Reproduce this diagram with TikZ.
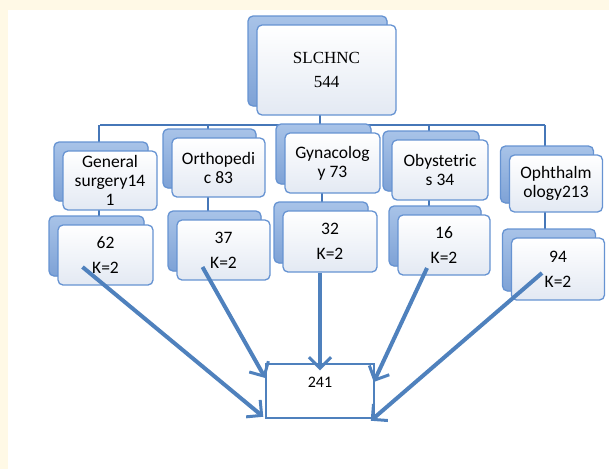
\documentclass[tikz,border=0pt]{standalone}
\usepackage{fontspec}
\setmainfont{Carlito}
\newfontfamily\titlefont{Liberation Serif}
\usepackage{tikz}
\usetikzlibrary{arrows.meta, shadows, backgrounds}
\definecolor{boxline}{HTML}{6693D2}
\definecolor{shadowtop}{HTML}{A8C3E8}
\definecolor{shadowbot}{HTML}{7EA2D6}
\definecolor{facebot}{HTML}{E3E9F3}
\definecolor{linkblue}{HTML}{4677B8}
\definecolor{arrowblue}{HTML}{4F81BD}
\definecolor{pagetint}{HTML}{FFF9E6}
\tikzset{
    block_dept/.style={rectangle, draw=boxline, line width=1.3pt, rounded corners=5pt, top color=white, bottom color=facebot, minimum width=94pt, minimum height=59pt, inner sep=2pt, align=center, font=\fontsize{17.5}{19}\selectfont,
        copy shadow={shadow xshift=-9pt, shadow yshift=9pt, draw=boxline, line width=1.3pt, top color=shadowtop, bottom color=shadowbot}},
    block_count/.style={block_dept, minimum height=60pt, font=\fontsize{17.5}{25}\selectfont},
    block_top/.style={block_dept, minimum width=139pt, minimum height=90pt, font=\titlefont\fontsize{17}{24}\selectfont},
    block_sum/.style={rectangle, draw=arrowblue, line width=1.5pt, fill=white, minimum width=108pt, minimum height=54pt, text depth=18pt, font=\fontsize{16}{19}\selectfont},
    link/.style={draw=linkblue, line width=2pt},
    arrow/.style={-{Straight Barb[length=11pt, width=22pt, line width=3pt]}, draw=arrowblue, line width=4pt}
}

\begin{document}
\begin{tikzpicture}[x=1pt, y=-1pt]
            \useasboundingbox (0,0) rectangle (609,469);

            % Top of the tree
            \node (slchnc) [block_top] at (326.5,70) {SLCHNC\\544};

            % Departments
            \node (gen)   [block_dept] at (110,180.5) {General\\surgery14\\1};
            \node (ortho) [block_dept, minimum width=93pt] at (218.5,167.5) {Orthopedi\\c 83};
            \node (gyn)   [block_dept, minimum width=95pt, minimum height=60pt] at (332.5,163) {Gynacolog\\y 73};
            \node (oby)   [block_dept, minimum width=96pt, minimum height=60pt] at (440,170) {Obystetric\\s 34};
            \node (oph)   [block_dept, minimum width=93pt, minimum height=57pt] at (556,183.5) {Ophthalm\\ology213};

            % Sample sizes
            \node (n62) [block_count, minimum width=95pt] at (105.5,255) {62\\K=2};
            \node (n37) [block_count, minimum width=93pt] at (223.5,250) {37\\K=2};
            \node (n32) [block_count, minimum height=61pt] at (330,241.5) {32\\K=2};
            \node (n16) [block_count, minimum width=92pt] at (444,245) {16\\K=2};
            \node (n94) [block_count, minimum width=93pt, minimum height=62pt] at (558,269) {94\\K=2};

            \node (total) [block_sum] at (320,391) {241};

            \coordinate (bus) at (0,125);

            \begin{scope}[on background layer]
                \fill[pagetint] (0,0) rectangle (609,10);
                \fill[pagetint] (0,0) rectangle (8,469);
                % tree lines
                \draw[link] ([xshift=-7pt]slchnc.center) -- ([xshift=-7pt]slchnc.center |- bus);
                \draw[link] ([xshift=-10pt]gen.center |- bus) -- ([xshift=-11pt]oph.center |- bus);
                \foreach \dept/\cnt in {gen/n62, ortho/n37, gyn/n32, oby/n16, oph/n94}
                    \draw[link] ([xshift=-11pt]\dept.center |- bus) -- ([xshift=-11pt]\dept.center |- \cnt.center);
            \end{scope}

            % Arrows to the total
            \draw[arrow] ([xshift=-23pt, yshift=-12pt]n62.center) -- ([xshift=-2pt, yshift=2pt]total.south west);
            \draw[arrow] ([xshift=-21pt, yshift=-17pt]n37.center) -- ([yshift=13pt]total.west);
            \draw[arrow] ([xshift=-10pt]n32.south) -- ([yshift=-7pt]total.north);
            \draw[arrow] ([xshift=-17pt, yshift=-23pt]n16.center) -- ([xshift=-1pt, yshift=9pt]total.east);
            \draw[arrow] ([xshift=-16pt, yshift=-4pt]n94.center) -- ([xshift=-4pt, yshift=-2pt]total.south east);
		\end{tikzpicture}
\end{document}
